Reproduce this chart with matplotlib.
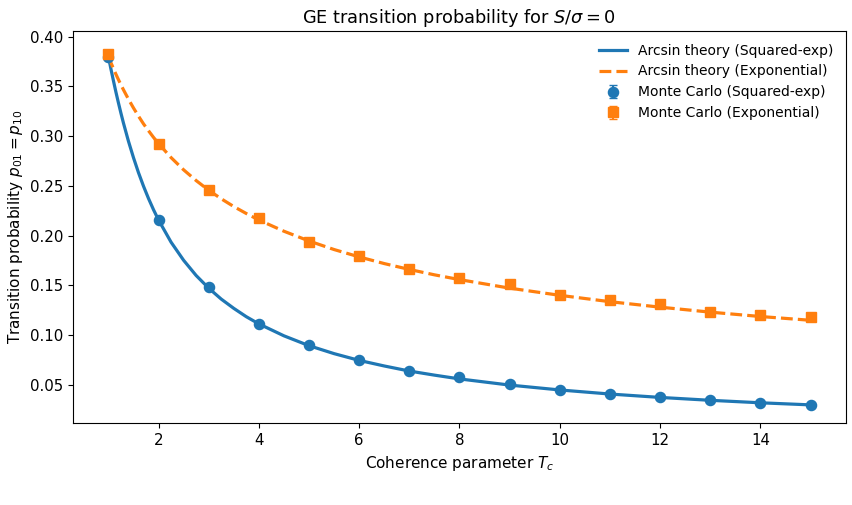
import matplotlib
matplotlib.use("Agg")
import matplotlib.pyplot as plt

# Theory curves
tc_theory = [1.0, 1.05, 1.1, 1.15, 1.2, 1.25, 1.3, 1.4, 1.5, 1.6, 1.7, 1.8, 1.9, 2.0, 2.25,
             2.5, 2.75, 3.0, 3.25, 3.5, 3.75, 4.0, 4.5, 5.0, 5.5, 6.0, 6.5, 7.0, 7.5, 8.0,
             9.0, 10.0, 11.0, 12.0, 13.0, 14.0, 15.0]
theory_sqexp = [0.3802, 0.3677, 0.3559, 0.3444, 0.3336, 0.3232, 0.3133, 0.2950, 0.2785,
                0.2634, 0.2498, 0.2374, 0.2261, 0.2158, 0.1935, 0.1753, 0.1600, 0.1473,
                0.1363, 0.1270, 0.1186, 0.1114, 0.0994, 0.0895, 0.0815, 0.0747, 0.0691,
                0.0640, 0.0599, 0.0561, 0.0499, 0.0450, 0.0409, 0.0375, 0.0346, 0.0321,
                0.0300]
theory_exp = [0.3802, 0.3740, 0.3680, 0.3623, 0.3569, 0.3517, 0.3467, 0.3372, 0.3284,
              0.3202, 0.3124, 0.3055, 0.2988, 0.2926, 0.2785, 0.2662, 0.2554, 0.2457,
              0.2371, 0.2293, 0.2223, 0.2158, 0.2045, 0.1947, 0.1861, 0.1787, 0.1720,
              0.1661, 0.1607, 0.1559, 0.1473, 0.1401, 0.1337, 0.1282, 0.1232, 0.1188,
              0.1150]

# Monte Carlo points
tc_mc = [1, 2, 3, 4, 5, 6, 7, 8, 9, 10, 11, 12, 13, 14, 15]
mc_sqexp = [0.380, 0.216, 0.148, 0.111, 0.090, 0.075, 0.064, 0.058, 0.051, 0.045,
            0.041, 0.038, 0.035, 0.032, 0.030]
mc_exp = [0.383, 0.292, 0.246, 0.218, 0.194, 0.180, 0.167, 0.158, 0.151, 0.140,
          0.135, 0.131, 0.123, 0.120, 0.118]
mc_err_sqexp = [0.002] * len(tc_mc)
mc_err_exp = [0.002] * len(tc_mc)

blue = "#1f77b4"
orange = "#ff7f0e"

fig = plt.figure(figsize=(8.53, 5.05), dpi=100)
ax = fig.add_axes([0.0859, 0.1618, 0.9055, 0.7768])

ax.plot(tc_theory, theory_sqexp, "-", color=blue, lw=2.3, label="Arcsin theory (Squared-exp)")
ax.plot(tc_theory, theory_exp, "--", color=orange, lw=2.3, label="Arcsin theory (Exponential)")
ax.errorbar(tc_mc, mc_sqexp, yerr=mc_err_sqexp, fmt="o", color=blue, ms=7.3, capsize=3,
            label="Monte Carlo (Squared-exp)")
ax.errorbar(tc_mc, mc_exp, yerr=mc_err_exp, fmt="s", color=orange, ms=7.3, capsize=3,
            label="Monte Carlo (Exponential)")

ax.set_xticks([2, 4, 6, 8, 10, 12, 14])
ax.set_yticks([0.05, 0.10, 0.15, 0.20, 0.25, 0.30, 0.35, 0.40])
ax.set_xlim(0.3, 15.7)
ax.set_ylim(0.0115, 0.4057)
ax.tick_params(labelsize=10.8)
ax.set_xlabel("Coherence parameter $T_c$", fontsize=11)
ax.set_ylabel("Transition probability $p_{01} = p_{10}$", fontsize=11)
ax.set_title(r"GE transition probability for $S/\sigma = 0$", fontsize=12.8)
ax.legend(frameon=False, loc="upper right", fontsize=10)

fig.savefig("out.png", dpi=100)
